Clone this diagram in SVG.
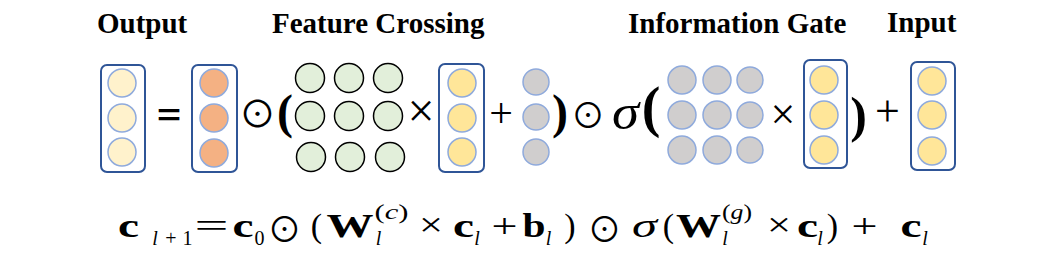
<svg xmlns="http://www.w3.org/2000/svg" width="1056" height="280" viewBox="0 0 1056 280">
<style>
.title{font-family:"Liberation Serif","Times New Roman",serif;font-weight:bold;font-size:29px;fill:#000}
.box{fill:#fff;stroke:#2F5597;stroke-width:2}
.vc{stroke:#8FAADC;stroke-width:1.5}
.cream{fill:#FFF2CC}
.orange{fill:#F4B183}
.yellow{fill:#FFE699}
.gray{fill:#D0CECE}
.green{fill:#E2EFDA;stroke:#000;stroke-width:1.5}
.m{font-family:"Liberation Serif","Times New Roman",serif;fill:#000;text-anchor:middle}
.b{font-weight:bold}
.i{font-style:italic}
.odot{font-family:"Noto Sans CJK SC","DejaVu Sans",sans-serif;fill:#000;text-anchor:middle}
.eqb{font-family:"Liberation Sans",Arial,sans-serif;font-weight:bold;fill:#000;text-anchor:middle}
</style>

<g id="titles">
<text class="title" x="97" y="33">Output</text>
<text class="title" x="272" y="33">Feature Crossing</text>
<text class="title" x="628" y="33">Information Gate</text>
<text class="title" x="887" y="32">Input</text>
</g>

<g id="output-vector">
<rect class="box" x="101" y="65" width="44" height="107" rx="6"/>
<circle class="cream vc" cx="122" cy="83" r="14"/>
<circle class="cream vc" cx="122" cy="118" r="14"/>
<circle class="cream vc" cx="122" cy="152" r="14"/>
</g>

<text class="eqb" x="169" y="124.5" font-size="29" textLength="24" lengthAdjust="spacingAndGlyphs">=</text>

<g id="c0-vector">
<rect class="box" x="192" y="65" width="45" height="107" rx="6"/>
<circle class="orange vc" cx="214" cy="83" r="14"/>
<circle class="orange vc" cx="214" cy="118" r="14"/>
<circle class="orange vc" cx="214" cy="153" r="14"/>
</g>

<text class="odot" x="257.5" y="128" font-size="37">⊙</text>
<text class="m b" x="285" y="128" font-size="48">(</text>

<g id="weight-matrix-c">
<circle class="green" cx="310" cy="78" r="14.5"/>
<circle class="green" cx="349" cy="78" r="14.5"/>
<circle class="green" cx="388" cy="78" r="14.5"/>
<circle class="green" cx="310" cy="116" r="14.5"/>
<circle class="green" cx="349" cy="116" r="14.5"/>
<circle class="green" cx="388" cy="116" r="14.5"/>
<circle class="green" cx="311" cy="157" r="14.5"/>
<circle class="green" cx="350" cy="157" r="14.5"/>
<circle class="green" cx="390" cy="157" r="14.5"/>
</g>

<text class="m" x="421" y="127" font-size="48">×</text>

<g id="cl-vector-1">
<rect class="box" x="439" y="64" width="45" height="108" rx="6"/>
<circle class="yellow vc" cx="462" cy="83" r="14"/>
<circle class="yellow vc" cx="462" cy="118" r="14"/>
<circle class="yellow vc" cx="462" cy="152" r="14"/>
</g>

<text class="m" x="501" y="126.5" font-size="42">+</text>

<g id="bias-vector">
<circle class="gray vc" cx="536" cy="82" r="13"/>
<circle class="gray vc" cx="536" cy="117" r="13"/>
<circle class="gray vc" cx="536" cy="152" r="13"/>
</g>

<text class="m b" x="560" y="128" font-size="48">)</text>
<text class="odot" x="588" y="128" font-size="34">⊙</text>
<text class="m i" x="625.5" y="129" font-size="50" textLength="27" lengthAdjust="spacingAndGlyphs">σ</text>
<text class="m b" x="651" y="126" font-size="56">(</text>

<g id="weight-matrix-g">
<circle class="gray vc" cx="682" cy="80" r="14"/>
<circle class="gray vc" cx="717" cy="80" r="14"/>
<circle class="gray vc" cx="750" cy="80" r="13"/>
<circle class="gray vc" cx="682" cy="115" r="14"/>
<circle class="gray vc" cx="717" cy="115" r="14"/>
<circle class="gray vc" cx="750" cy="115" r="13"/>
<circle class="gray vc" cx="682" cy="150" r="14"/>
<circle class="gray vc" cx="717" cy="150" r="14"/>
<circle class="gray vc" cx="750" cy="150" r="13"/>
</g>

<text class="m" x="783" y="129" font-size="44">×</text>

<g id="cl-vector-2">
<rect class="box" x="804" y="60" width="43" height="108" rx="6"/>
<circle class="yellow vc" cx="824" cy="80" r="14"/>
<circle class="yellow vc" cx="824" cy="115" r="14"/>
<circle class="yellow vc" cx="824" cy="150" r="14"/>
</g>

<text class="m b" x="858.5" y="131.5" font-size="50">)</text>
<text class="m" x="887.5" y="126" font-size="44">+</text>

<g id="input-vector">
<rect class="box" x="911" y="62" width="44" height="108" rx="6"/>
<circle class="yellow vc" cx="932" cy="81" r="14"/>
<circle class="yellow vc" cx="932" cy="115" r="14"/>
<circle class="yellow vc" cx="932" cy="151" r="14"/>
</g>

<g id="connectors"></g>

<g id="formula">
<text class="m b" x="128.5" y="237" font-size="34" textLength="21" lengthAdjust="spacingAndGlyphs">c</text>
<text class="m i" x="155" y="245" font-size="20">l</text>
<text class="m" x="171" y="245" font-size="20">+</text>
<text class="m" x="187.5" y="245" font-size="20">1</text>
<text class="m" x="211.5" y="237" font-size="34" textLength="34" lengthAdjust="spacingAndGlyphs">=</text>
<text class="m b" x="243" y="237" font-size="34" textLength="21" lengthAdjust="spacingAndGlyphs">c</text>
<text class="m" x="259.5" y="245" font-size="20">0</text>
<text class="odot" x="284.5" y="242" font-size="34">⊙</text>
<text class="m" x="316.5" y="237" font-size="34">(</text>
<text class="m b" x="350" y="237" font-size="34" textLength="47" lengthAdjust="spacingAndGlyphs">W</text>
<text class="m" x="391.5" y="219" font-size="22" textLength="34" lengthAdjust="spacingAndGlyphs">(<tspan class="i">c</tspan>)</text>
<text class="m i" x="378.5" y="245" font-size="20">l</text>
<text class="m" x="431" y="236" font-size="34" textLength="24" lengthAdjust="spacingAndGlyphs">×</text>
<text class="m b" x="463.5" y="237" font-size="34" textLength="21" lengthAdjust="spacingAndGlyphs">c</text>
<text class="m i" x="477" y="245" font-size="20">l</text>
<text class="m" x="504.5" y="237" font-size="34" textLength="26" lengthAdjust="spacingAndGlyphs">+</text>
<text class="m b" x="534" y="237" font-size="34" textLength="23" lengthAdjust="spacingAndGlyphs">b</text>
<text class="m i" x="548.5" y="245" font-size="20">l</text>
<text class="m" x="570" y="237" font-size="34">)</text>
<text class="odot" x="604.5" y="242" font-size="34">⊙</text>
<text class="m i" x="644.5" y="237" font-size="34" textLength="25" lengthAdjust="spacingAndGlyphs">σ</text>
<text class="m" x="668.5" y="237" font-size="34">(</text>
<text class="m b" x="698.5" y="237" font-size="34" textLength="45" lengthAdjust="spacingAndGlyphs">W</text>
<text class="m" x="737" y="219" font-size="22" textLength="30" lengthAdjust="spacingAndGlyphs">(<tspan class="i">g</tspan>)</text>
<text class="m i" x="725" y="245" font-size="20">l</text>
<text class="m" x="779" y="236" font-size="34" textLength="24" lengthAdjust="spacingAndGlyphs">×</text>
<text class="m b" x="807.5" y="237" font-size="34" textLength="21" lengthAdjust="spacingAndGlyphs">c</text>
<text class="m i" x="820" y="245" font-size="20">l</text>
<text class="m" x="832.5" y="237" font-size="34">)</text>
<text class="m" x="864.5" y="237" font-size="34" textLength="26" lengthAdjust="spacingAndGlyphs">+</text>
<text class="m b" x="911" y="237" font-size="34" textLength="21" lengthAdjust="spacingAndGlyphs">c</text>
<text class="m i" x="925" y="245" font-size="20">l</text>
</g>
</svg>
